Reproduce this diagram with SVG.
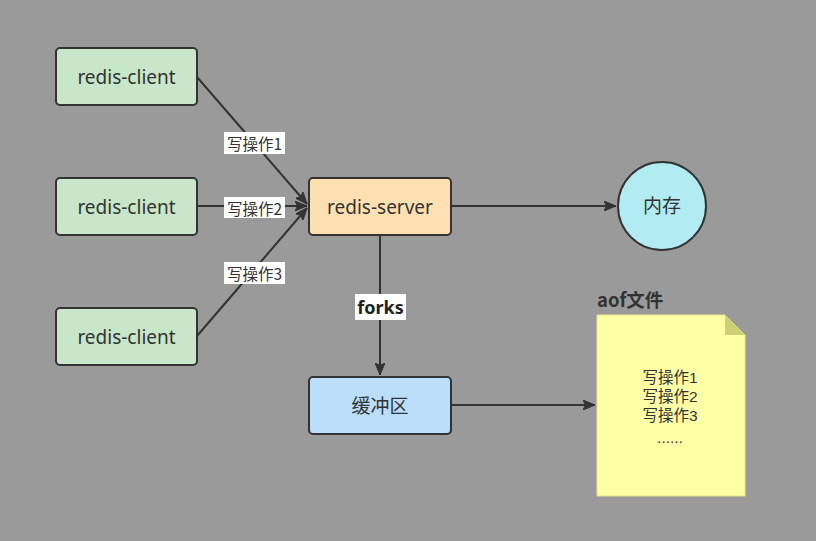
<svg xmlns="http://www.w3.org/2000/svg" width="816" height="541" viewBox="0 0 816 541">
<defs>
<style>
.n{stroke:#333;stroke-width:2}
.t{font-family:"Noto Sans","Noto Sans CJK SC",sans-serif;font-size:19px;fill:#333;text-anchor:middle;dominant-baseline:central}
.e{stroke:#333;stroke-width:2;fill:none;marker-end:url(#ah)}
.lb{fill:#fff}
.lt{font-family:"Noto Sans CJK SC","Noto Sans",sans-serif;font-size:15.5px;fill:#333;text-anchor:middle;dominant-baseline:central}
.dt{font-family:"Liberation Sans","Noto Sans CJK SC",sans-serif;font-size:15.5px;fill:#333;text-anchor:middle}
</style>
<marker id="ah" viewBox="0 0 12 10" refX="12" refY="5" markerWidth="12" markerHeight="10" markerUnits="userSpaceOnUse" orient="auto"><path d="M0,0L12,5L0,10L2.5,5z" fill="#333" stroke="#333" stroke-width="1"/></marker>
</defs>
<rect width="816" height="541" fill="#9a9a9a"/>
<g id="connectors">
<path class="e" d="M197,77L307,204"/>
<path class="e" d="M197,206L307,206"/>
<path class="e" d="M197,336L307,208"/>
<path class="e" d="M451,206L616,206"/>
<path class="e" d="M380,235L380,375"/>
<path class="e" d="M451,405L595,405"/>
<rect class="lb" x="224" y="132" width="61" height="22"/>
<text class="lt" x="254.5" y="143">写操作1</text>
<rect class="lb" x="224" y="197" width="61" height="21"/>
<text class="lt" x="254.5" y="207.5">写操作2</text>
<rect class="lb" x="224" y="262" width="61" height="22"/>
<text class="lt" x="254.5" y="273">写操作3</text>
<rect class="lb" x="355" y="294" width="51" height="26"/>
<text x="380.5" y="314" style="font-family:'Noto Sans','Noto Sans CJK SC',sans-serif;font-size:18px;font-weight:bold;fill:#222;text-anchor:middle">forks</text>
</g>
<g id="client1"><rect class="n" x="56" y="48" width="141" height="57" rx="4" fill="#c8e6c9"/><text class="t" x="126.5" y="76.5">redis-client</text></g>
<g id="client2"><rect class="n" x="56" y="178" width="141" height="57" rx="4" fill="#c8e6c9"/><text class="t" x="126.5" y="206.5">redis-client</text></g>
<g id="client3"><rect class="n" x="56" y="308" width="141" height="57" rx="4" fill="#c8e6c9"/><text class="t" x="126.5" y="336.5">redis-client</text></g>
<g id="server"><rect class="n" x="309" y="178" width="142" height="57" rx="4" fill="#ffe0b2"/><text class="t" x="380" y="206.5">redis-server</text></g>
<g id="memory"><circle class="n" cx="662" cy="206" r="44" fill="#b2ebf2"/><text class="t" x="662" y="206">内存</text></g>
<g id="buffer"><rect class="n" x="309" y="377" width="142" height="57" rx="4" fill="#bbdefb"/><text class="t" x="380" y="405.5">缓冲区</text></g>
<g id="aof">
<text x="597" y="307" style="font-family:'Noto Sans CJK SC','Noto Sans',sans-serif;font-size:18.5px;font-weight:bold;fill:#333">aof文件</text>
<path d="M597,315H725L745,335V496H597Z" fill="#ffffa6" stroke="#e6e68a" stroke-width="1"/>
<path d="M725,315V335H745Z" fill="#cfcf77"/>
<text class="dt" x="670" y="383">写操作1<tspan x="670" dy="19">写操作2</tspan><tspan x="670" dy="19">写操作3</tspan><tspan x="670" dy="22">......</tspan></text>
</g>
</svg>
